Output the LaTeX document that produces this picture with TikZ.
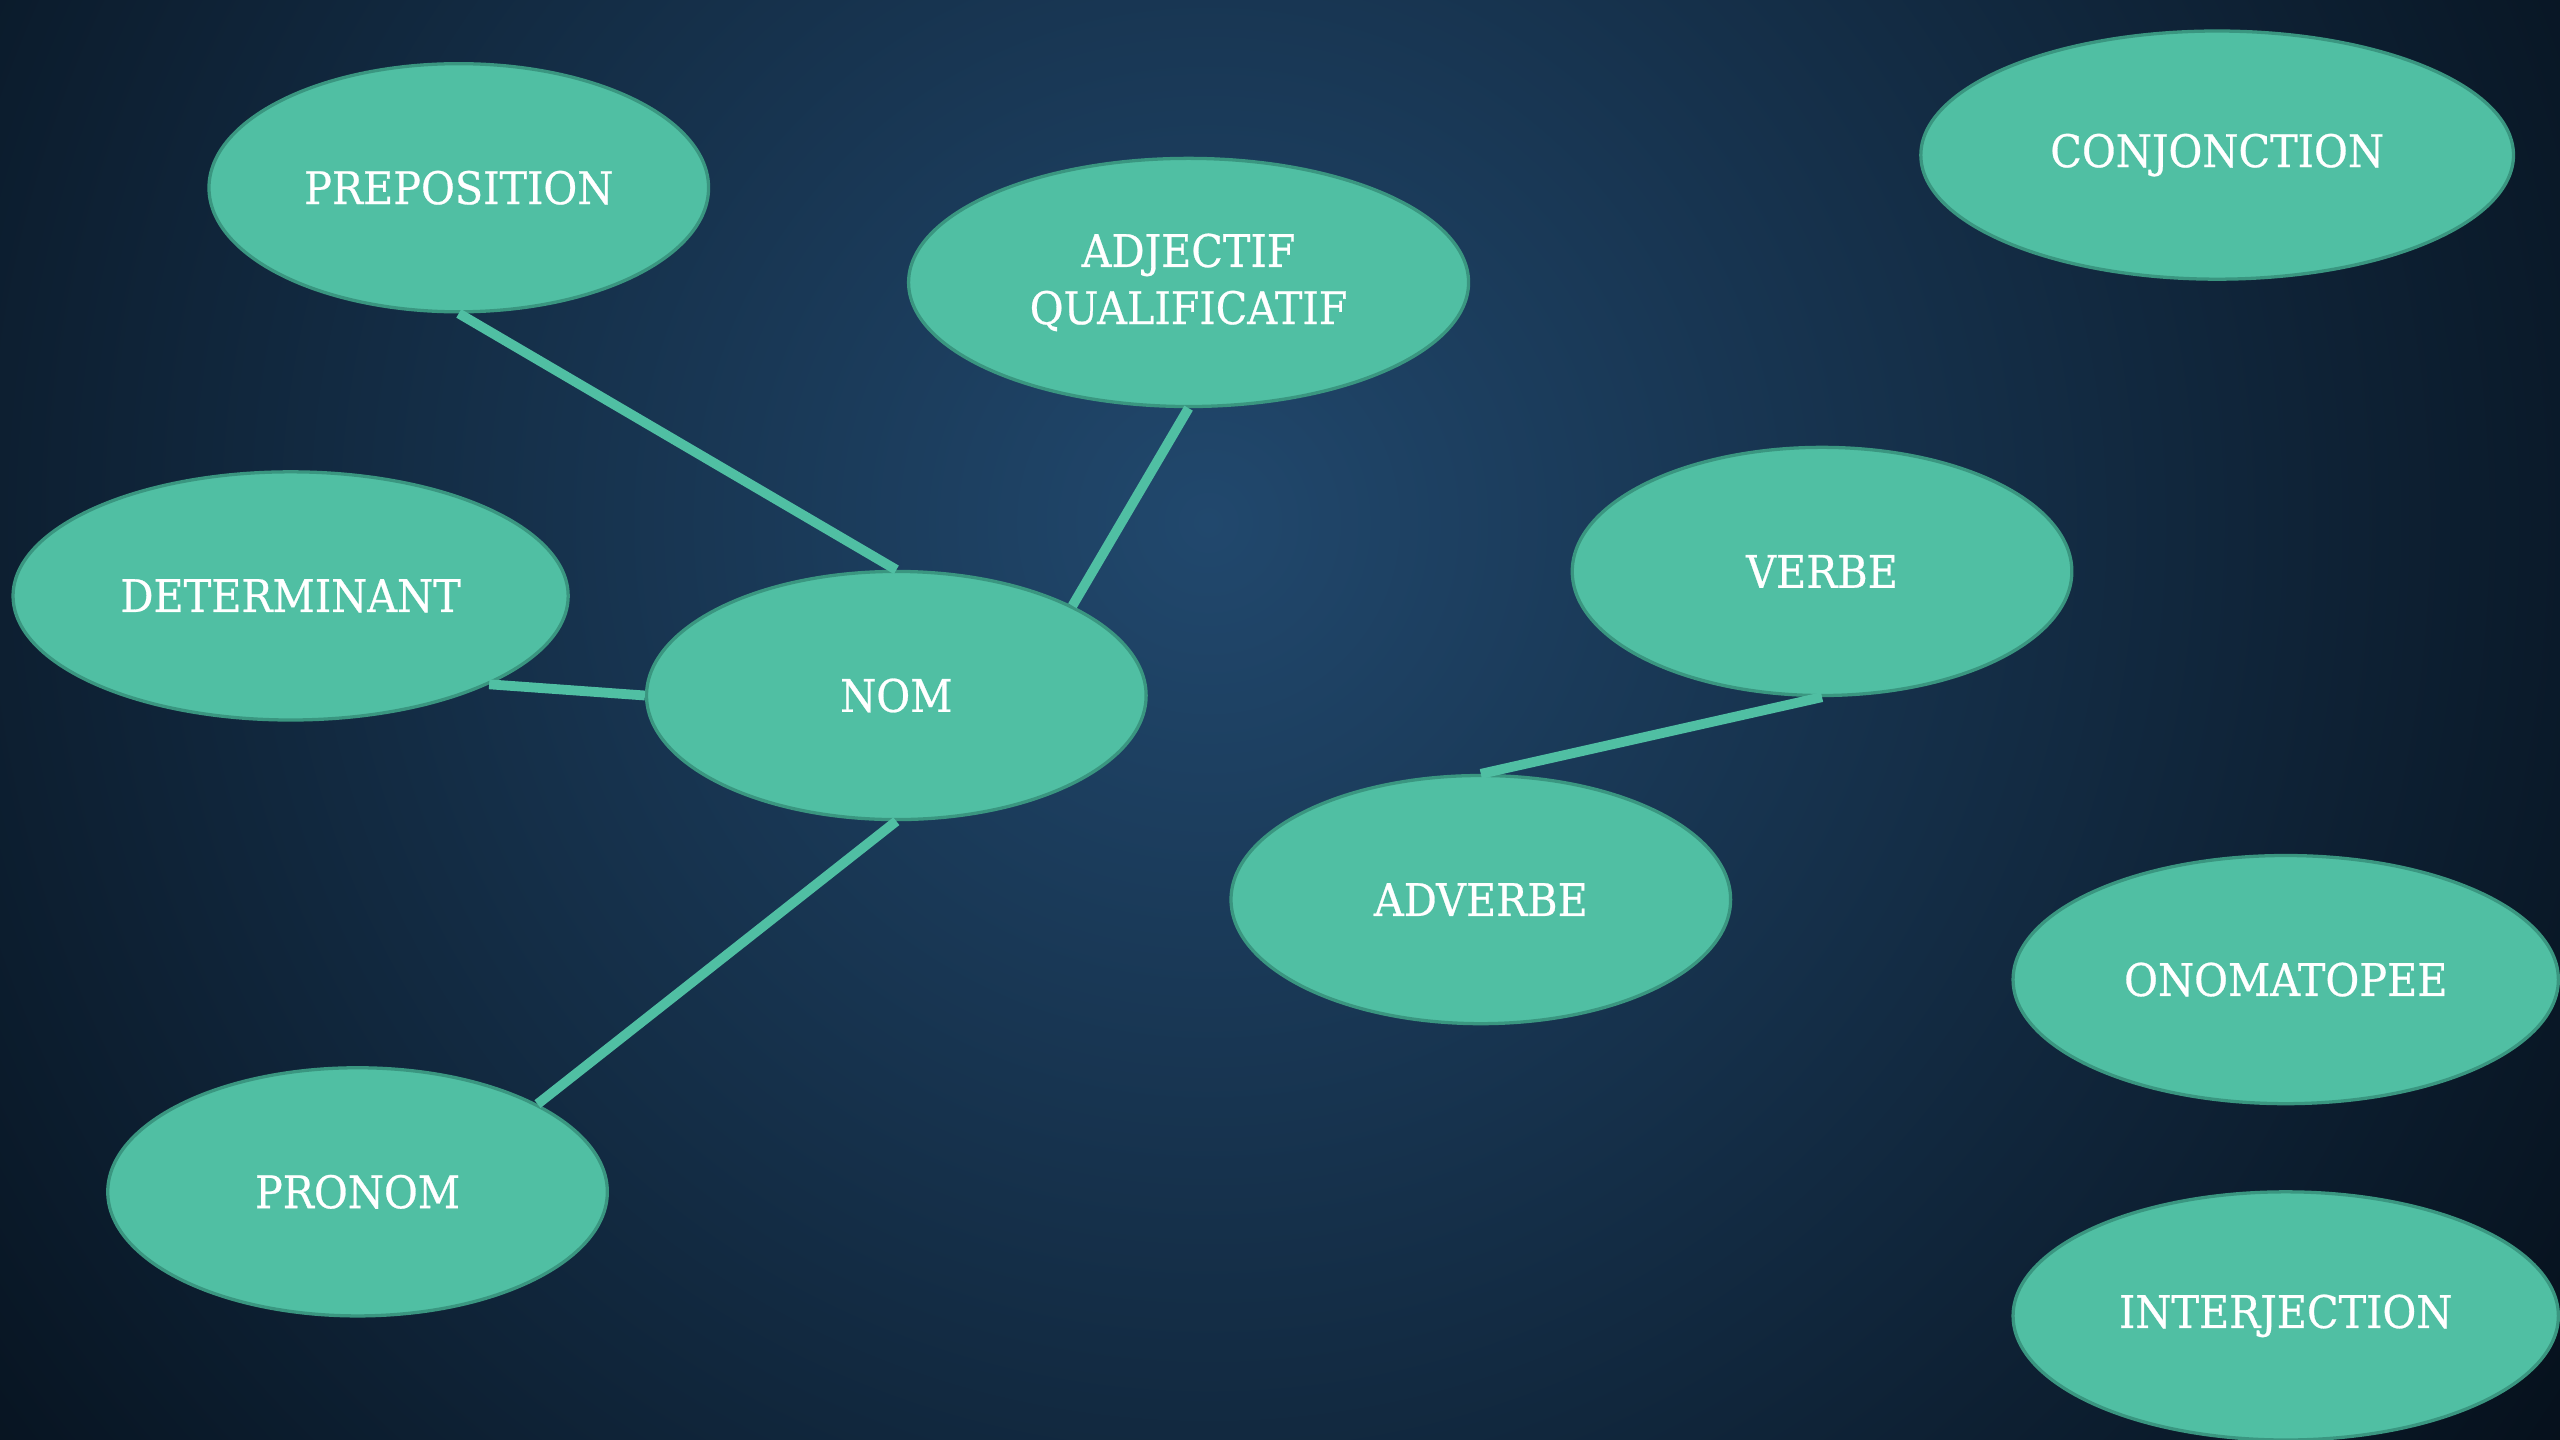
\documentclass[tikz,border=0pt]{standalone}
\usepackage{fontspec}
\setmainfont{DejaVu Serif}[FakeStretch=0.92,FakeBold=0.6]
\usetikzlibrary{shapes.geometric}
\definecolor{bgin}{HTML}{21486D}
\definecolor{bgout}{HTML}{030B14}
\definecolor{tealfill}{HTML}{50BFA3}
\definecolor{tealedge}{HTML}{3A9680}
\begin{document}
\begin{tikzpicture}[x=1pt,y=-1pt,
  bubble/.style={ellipse, fill=tealfill, draw=tealedge, line width=2pt, inner sep=0pt,
    text=white, font=\fontsize{27.5}{35}\selectfont, align=center},
  link/.style={draw=tealfill, line width=6pt}]
\useasboundingbox (0,0) rectangle (1568,882);
\begin{scope}
  \clip (0,0) rectangle (1568,882);
  \fill[bgout] (0,0) rectangle (1568,882);
  \shade[inner color=bgin, outer color=bgout] (740,320) circle (1100pt);
\end{scope}
\node[bubble, minimum width=306pt, minimum height=152pt] (prep) at (281,115) {PREPOSITION};
\node[bubble, minimum width=343pt, minimum height=152pt] (adj) at (728,173) {ADJECTIF\\QUALIFICATIF};
\node[bubble, minimum width=363pt, minimum height=152pt] (conj) at (1358,95) {CONJONCTION};
\node[bubble, minimum width=340pt, minimum height=152pt] (det) at (178,365) {DETERMINANT};
\node[bubble, minimum width=306pt, minimum height=152pt] (nom) at (549,426) {NOM};
\node[bubble, minimum width=306pt, minimum height=152pt] (verbe) at (1116,350) {VERBE};
\node[bubble, minimum width=306pt, minimum height=152pt] (adv) at (907,551) {ADVERBE};
\node[bubble, minimum width=334pt, minimum height=152pt] (ono) at (1400,600) {ONOMATOPEE};
\node[bubble, minimum width=334pt, minimum height=152pt] (inter) at (1400,806) {INTERJECTION};
\node[bubble, minimum width=306pt, minimum height=152pt] (pron) at (219,730) {PRONOM};
\draw[link] (prep.south) -- (nom.north);
\draw[link] (adj.south) -- (nom.27);
\draw[link] (det.-24) -- (nom.west);
\draw[link] (nom.south) -- (pron.26);
\draw[link] (verbe.south) -- (adv.north);
\end{tikzpicture}
\end{document}
